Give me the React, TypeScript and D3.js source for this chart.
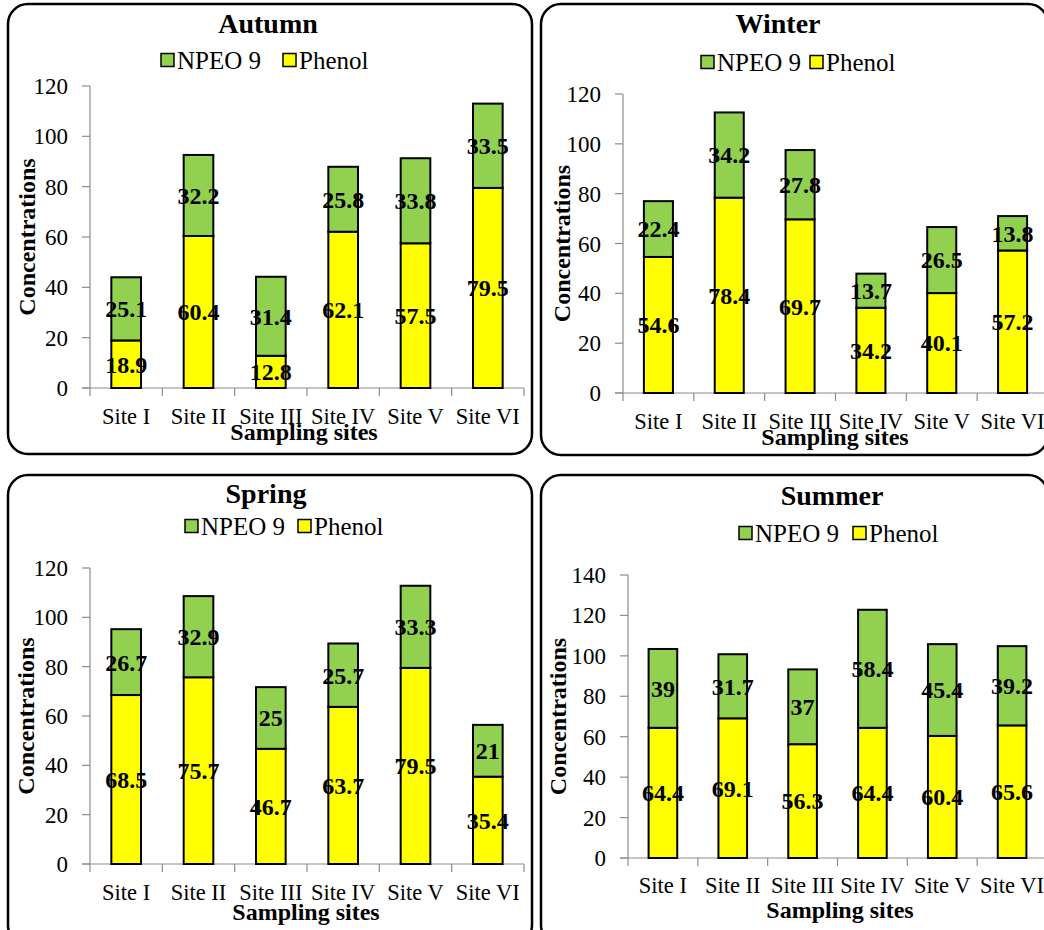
import React from 'react';
import * as d3 from 'd3';

const sites = ['Site I', 'Site II', 'Site III', 'Site IV', 'Site V', 'Site VI'];
const seriesNames = ['NPEO 9', 'Phenol'];

const autumnPhenol = [18.9, 60.4, 12.8, 62.1, 57.5, 79.5];
const autumnNpeo = [25.1, 32.2, 31.4, 25.8, 33.8, 33.5];
const winterPhenol = [54.6, 78.4, 69.7, 34.2, 40.1, 57.2];
const winterNpeo = [22.4, 34.2, 27.8, 13.7, 26.5, 13.8];
const springPhenol = [68.5, 75.7, 46.7, 63.7, 79.5, 35.4];
const springNpeo = [26.7, 32.9, 25, 25.7, 33.3, 21];
const summerPhenol = [64.4, 69.1, 56.3, 64.4, 60.4, 65.6];
const summerNpeo = [39, 31.7, 37, 58.4, 45.4, 39.2];

const GREEN = '#92d050';
const YELLOW = '#ffff00';
const AXIS = '#8c8c8c';
const FONT = "'Liberation Serif', 'Times New Roman', Times, serif";

// layout of each panel (pixels)
const panels = [
  {title: 'Autumn', phenol: autumnPhenol, npeo: autumnNpeo, yMax: 120,
    box: [8, 4, 524, 450], plot: [90, 524, 86, 388], titlePos: [268, 33],
    legend: [60, 161, 283], tickY: 424, xTitle: [304, 440], yTitleX: 27},
  {title: 'Winter', phenol: winterPhenol, npeo: winterNpeo, yMax: 120,
    box: [541, 4, 507, 451], plot: [623, 1048, 94, 393], titlePos: [778, 33],
    legend: [62, 701, 810], tickY: 429, xTitle: [835, 445], yTitleX: 562},
  {title: 'Spring', phenol: springPhenol, npeo: springNpeo, yMax: 120,
    box: [8, 475, 524, 470], plot: [90, 524, 568, 864], titlePos: [266, 503],
    legend: [526, 185, 298], tickY: 900, xTitle: [306, 920], yTitleX: 26},
  {title: 'Summer', phenol: summerPhenol, npeo: summerNpeo, yMax: 140,
    box: [541, 475, 507, 470], plot: [628, 1047, 575, 858], titlePos: [832, 505],
    legend: [533, 739, 853], tickY: 893, xTitle: [840, 918], yTitleX: 558},
];

function Panel({p}) {
  const [left, right, top, bottom] = p.plot;
  const x = d3.scaleBand().domain(sites).range([left, right]).paddingInner(0.59).paddingOuter(0.295);
  const y = d3.scaleLinear().domain([0, p.yMax]).range([bottom, top]);
  const ticks = y.ticks(p.yMax / 20);
  const bounds = d3.range(sites.length + 1).map(i => left + i * x.step());
  const [bx, by, bw, bh] = p.box;
  const [ly, gx, yx] = p.legend;

  return (
    <g>
      <rect x={bx} y={by} width={bw} height={bh} rx={20} fill="white" stroke="black" strokeWidth={2.5} />
      <text x={p.titlePos[0]} y={p.titlePos[1]} textAnchor="middle" fontSize={28} fontWeight="bold">{p.title}</text>

      {/* legend */}
      <rect x={gx} y={ly - 6.5} width={13} height={13} fill={GREEN} stroke="black" strokeWidth={1.5} />
      <text x={gx + 16} y={ly} dy="0.35em" fontSize={25}>{seriesNames[0]}</text>
      <rect x={yx} y={ly - 6.5} width={13} height={13} fill={YELLOW} stroke="black" strokeWidth={1.5} />
      <text x={yx + 16} y={ly} dy="0.35em" fontSize={25}>{seriesNames[1]}</text>

      {/* y axis */}
      <line x1={left} x2={left} y1={y(p.yMax)} y2={bottom} stroke={AXIS} strokeWidth={1.2} />
      {ticks.map(t => (
        <g key={t}>
          <line x1={left - 8} x2={left} y1={y(t)} y2={y(t)} stroke={AXIS} strokeWidth={1.2} />
          <text x={left - 22} y={y(t)} dy="0.35em" textAnchor="end" fontSize={23}>{t}</text>
        </g>
      ))}

      {/* x axis */}
      <line x1={left - 8} x2={right} y1={bottom} y2={bottom} stroke={AXIS} strokeWidth={1.2} />
      {bounds.map((b, i) => (
        <line key={i} x1={b} x2={b} y1={bottom} y2={bottom + 8} stroke={AXIS} strokeWidth={1.2} />
      ))}
      {sites.map(s => (
        <text key={s} x={x(s) + x.bandwidth() / 2} y={p.tickY} textAnchor="middle" fontSize={22.5}>{s}</text>
      ))}

      {/* stacked bars */}
      {sites.map((s, i) => {
        const ph = p.phenol[i];
        const np = p.npeo[i];
        return (
          <g key={s}>
            <rect x={x(s)} width={x.bandwidth()} y={y(ph)} height={y(0) - y(ph)} fill={YELLOW} stroke="black" strokeWidth={2} />
            <rect x={x(s)} width={x.bandwidth()} y={y(ph + np)} height={y(ph) - y(ph + np)} fill={GREEN} stroke="black" strokeWidth={2} />
            <text x={x(s) + x.bandwidth() / 2} y={y(ph / 2)} dy="0.35em" textAnchor="middle" fontSize={24} fontWeight="bold">{ph}</text>
            <text x={x(s) + x.bandwidth() / 2} y={y(ph + np / 2)} dy="0.35em" textAnchor="middle" fontSize={24} fontWeight="bold">{np}</text>
          </g>
        );
      })}

      <text x={p.xTitle[0]} y={p.xTitle[1]} textAnchor="middle" fontSize={24} fontWeight="bold">Sampling sites</text>
      <text transform={`translate(${p.yTitleX},${(top + bottom) / 2}) rotate(-90)`} dy="0.35em" textAnchor="middle" fontSize={24} fontWeight="bold">Concentrations</text>
    </g>
  );
}

export default function App() {
  return (
    <svg width={1044} height={930} style={{position: 'absolute', left: 0, top: 0, fontFamily: FONT}}>
      <rect width={1044} height={930} fill="white" />
      {panels.map(p => <Panel key={p.title} p={p} />)}
    </svg>
  );
}
